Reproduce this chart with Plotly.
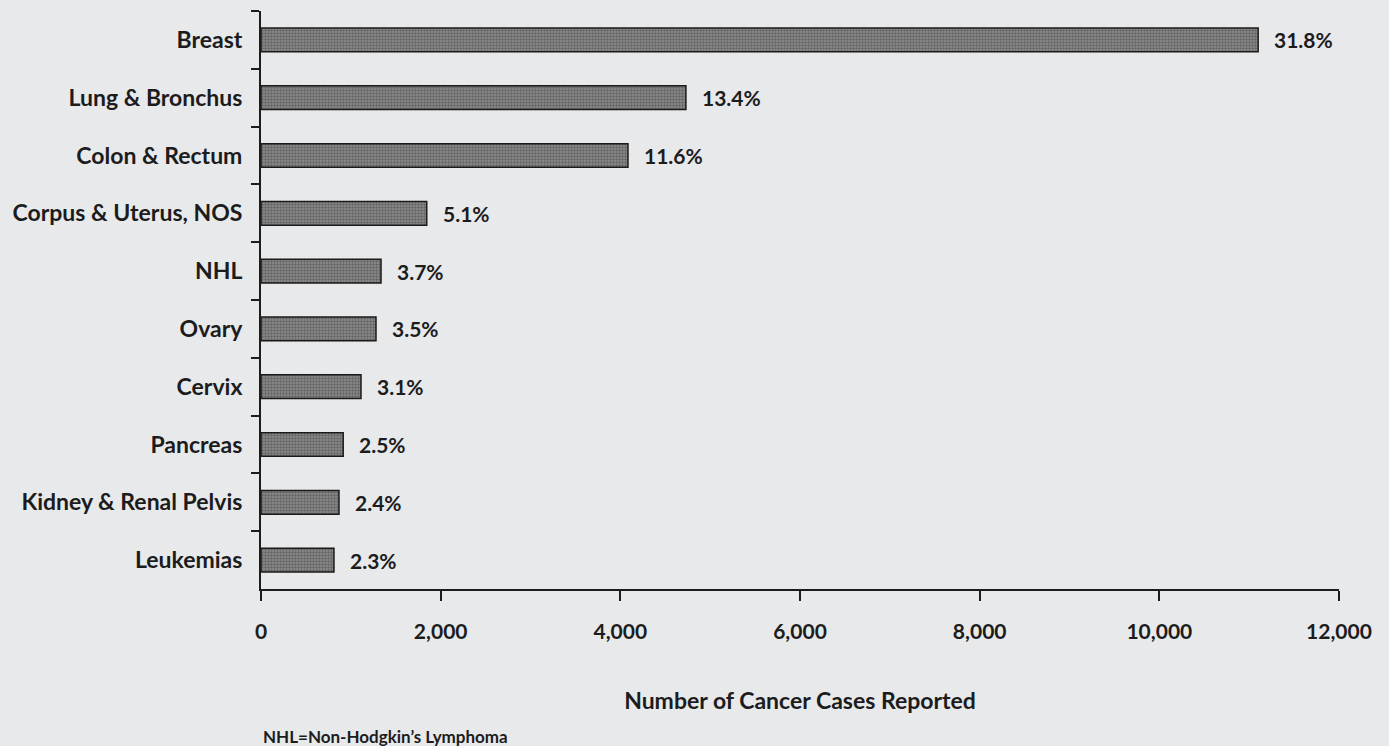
import plotly.graph_objects as go

categories = ["Breast", "Lung & Bronchus", "Colon & Rectum", "Corpus & Uterus, NOS",
              "NHL", "Ovary", "Cervix", "Pancreas", "Kidney & Renal Pelvis", "Leukemias"]
cases = [11100, 4730, 4085, 1845, 1336, 1280, 1113, 915, 868, 812]
percent_labels = ["31.8%", "13.4%", "11.6%", "5.1%", "3.7%", "3.5%", "3.1%", "2.5%", "2.4%", "2.3%"]
x_tickvals = [0, 2000, 4000, 6000, 8000, 10000, 12000]
x_ticktext = ["0", "2,000", "4,000", "6,000", "8,000", "10,000", "12,000"]

FONT = "Lato"
INK = "#1c1c1c"
BG = "#e8e9eb"

fig = go.Figure()
fig.add_trace(go.Bar(
    x=cases, y=categories, orientation="h",
    width=0.41,
    marker=dict(
        color="#808080",
        line=dict(color="#1a1a1a", width=1.5),
        pattern=dict(shape=".", fgcolor="#3a3a3a", bgcolor="#8e8e8e", size=3, solidity=0.5),
    ),
    hoverinfo="skip",
))

for v, c, t in zip(cases, categories, percent_labels):
    fig.add_annotation(x=v, y=c, text=t, showarrow=False, xanchor="left", yanchor="middle",
                       xshift=14, font=dict(family=FONT, size=21, color=INK, weight="bold"))

fig.add_annotation(x=0, y=-0.256, xref="paper", yref="paper", text="NHL=Non-Hodgkin\u2019s Lymphoma",
                   showarrow=False, xanchor="left", yanchor="middle",
                   font=dict(family=FONT, size=17, color=INK, weight="bold"))

fig.update_layout(
    width=1389, height=746,
    margin=dict(l=261, r=50, t=11, b=157),
    paper_bgcolor=BG, plot_bgcolor=BG,
    showlegend=False,
    font=dict(family=FONT, color=INK),
)
fig.update_yaxes(
    type="category", categoryorder="array", categoryarray=categories,
    autorange="reversed",
    tickson="boundaries", ticks="outside", ticklen=8, tickwidth=2, tickcolor=INK,
    showline=True, linewidth=2, linecolor=INK, showgrid=False, zeroline=False,
    tickfont=dict(family=FONT, size=23, color=INK, weight="bold"), ticklabelstandoff=12,
)
fig.update_xaxes(
    range=[0, 12000], tickvals=x_tickvals, ticktext=x_ticktext,
    ticks="outside", ticklen=10, tickwidth=2, tickcolor=INK,
    showline=True, linewidth=2, linecolor=INK, showgrid=False, zeroline=False,
    tickfont=dict(family=FONT, size=21, color=INK, weight="bold"), ticklabelstandoff=13,
    title=dict(text="Number of Cancer Cases Reported", standoff=51,
               font=dict(family=FONT, size=23, color=INK, weight="bold")),
)

fig.write_html("out.html", config={"displayModeBar": False},
               post_script="document.body.style.margin='0';document.body.style.background='%s';" % BG)
